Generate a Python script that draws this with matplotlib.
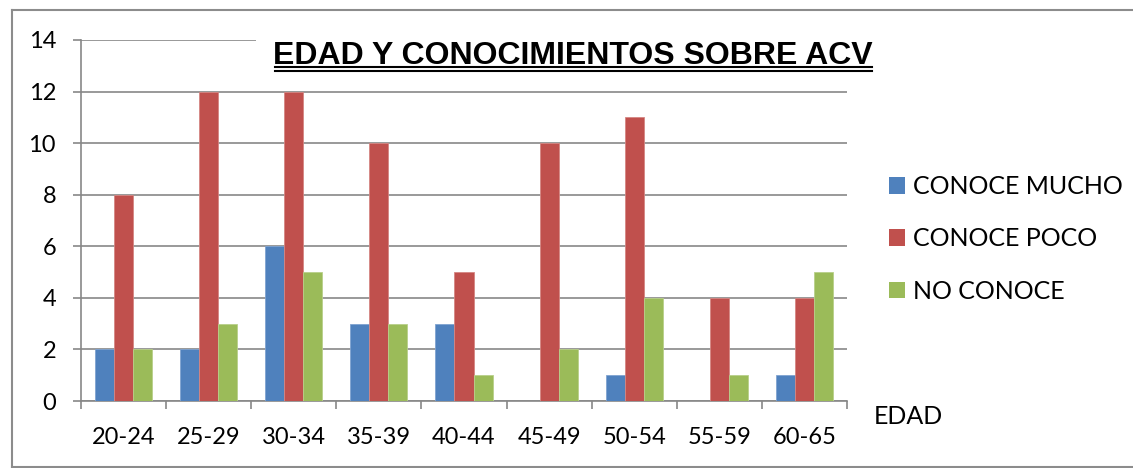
import matplotlib
matplotlib.use("Agg")
import matplotlib.pyplot as plt
from matplotlib.patches import Rectangle, Patch
from matplotlib.lines import Line2D
import numpy as np

# Data
age_groups = ["20-24", "25-29", "30-34", "35-39", "40-44", "45-49", "50-54", "55-59", "60-65"]
conoce_mucho = [2, 2, 6, 3, 3, 0, 1, 0, 1]
conoce_poco = [8, 12, 12, 10, 5, 10, 11, 4, 4]
no_conoce = [2, 3, 5, 3, 1, 2, 4, 1, 5]
series_names = ["CONOCE MUCHO", "CONOCE POCO", "NO CONOCE"]
series_colors = ["#4F81BD", "#C0504D", "#9BBB59"]
edge_colors = ["#7FA3D0", "#D58683", "#B8D08A"]

W, H = 1133, 468
fig = plt.figure(figsize=(W / 100, H / 100), dpi=100)

def fx(px):
    return px / W

def fy(py):
    return 1 - py / H

GRID = "#878787"
TXT_FONT = "Lato"

ax = fig.add_axes([fx(81), fy(401), fx(847) - fx(81), fy(40) - fy(401)])

x = np.arange(len(age_groups))
bw = 0.224
for i, (vals, col, ec) in enumerate(zip([conoce_mucho, conoce_poco, no_conoce],
                                          series_colors, edge_colors)):
    ax.bar(x + (i - 1) * bw, vals, width=bw, color=col, edgecolor=ec,
           linewidth=0.6, zorder=3, label=series_names[i])

ax.set_xlim(-0.5, len(age_groups) - 0.5)
ax.set_ylim(0, 14)
ax.set_yticks(np.arange(0, 15, 2))
ax.set_xticks(x)
ax.set_xticklabels(age_groups, fontsize=17, family=TXT_FONT)
ax.set_xticks(np.arange(-0.5, len(age_groups), 1), minor=True)
ax.tick_params(axis="x", which="major", length=0, pad=19)
ax.tick_params(axis="x", which="minor", length=6, width=1.2, color=GRID, direction="out")
ax.tick_params(axis="y", length=6, width=1.2, color=GRID, pad=12, labelsize=17)
for lab in ax.get_yticklabels():
    lab.set_family(TXT_FONT)

ax.grid(axis="y", color=GRID, linewidth=1.2, zorder=0)
ax.set_axisbelow(True)
for side in ["top", "right"]:
    ax.spines[side].set_visible(False)
for side in ["left", "bottom"]:
    ax.spines[side].set_color(GRID)
    ax.spines[side].set_linewidth(1.2)

# White panel behind the title hides the top gridline
fig.patches.append(Rectangle((fx(256), fy(80)), fx(885) - fx(256), fy(22) - fy(80),
                             transform=fig.transFigure, facecolor="white",
                             edgecolor="none", zorder=2))

title = "EDAD Y CONOCIMIENTOS SOBRE ACV"
fig.text(fx(573), fy(64), title, fontsize=23, fontweight="bold",
         family="Liberation Sans", ha="center", va="baseline", zorder=3)
# Double underline under the title
for uy in (66.7, 70.7):
    fig.add_artist(Line2D([fx(275), fx(872)], [fy(uy), fy(uy)], color="black",
                          linewidth=1.5, transform=fig.transFigure, zorder=3))

fig.text(fx(874), fy(417), "EDAD", fontsize=18, family=TXT_FONT,
         ha="left", va="center")

handles = [Patch(facecolor=c, edgecolor="none") for c in series_colors]
fig.legend(handles, series_names, loc="center left",
           bbox_to_anchor=(fx(889), fy(239)), frameon=False,
           prop={"family": TXT_FONT, "size": 18},
           handlelength=0.64, handleheight=0.64, handletextpad=0.32,
           labelspacing=1.17, borderpad=0, borderaxespad=0)

# Outer chart frame
frame_kw = dict(color="#8c8c8c", linewidth=1.5, transform=fig.transFigure)
fig.add_artist(Line2D([fx(12), fx(W)], [fy(10), fy(10)], **frame_kw))
fig.add_artist(Line2D([fx(12), fx(12)], [fy(10), fy(467)], **frame_kw))
fig.add_artist(Line2D([fx(12), fx(W)], [fy(467), fy(467)], **frame_kw))

fig.savefig("out.png", dpi=100, facecolor="white")
